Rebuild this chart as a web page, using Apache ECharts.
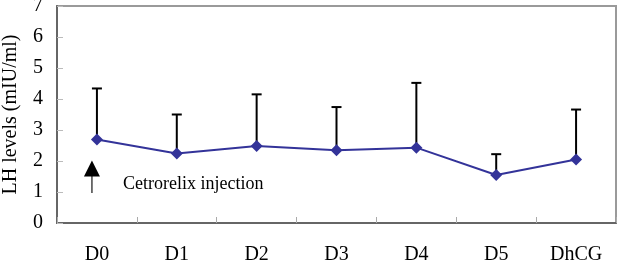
<!DOCTYPE html>
<html>
<head>
<meta charset="utf-8">
<script src="https://cdn.jsdelivr.net/npm/echarts@6/dist/echarts.min.js"></script>
<style>
  html, body { margin: 0; padding: 0; background: #fff; }
  #main { width: 618px; height: 263px; }
</style>
</head>
<body>
<div id="main"></div>
<script>
// days of sampling
var days = ['D0', 'D1', 'D2', 'D3', 'D4', 'D5', 'DhCG'];
// mean LH (mIU/ml)
var lhMean = [2.69, 2.24, 2.48, 2.35, 2.43, 1.55, 2.05];
// mean + SD (top of error bar)
var lhUpper = [4.34, 3.50, 4.15, 3.74, 4.52, 2.22, 3.66];
var yTicks = [0, 1, 2, 3, 4, 5, 6, 7];
// arrow marking the injection, from/to on the y scale
var arrowDay = 'D0';
var arrowFrom = 0.97, arrowTo = 2.02;
var noteText = 'Cetrorelix injection';
var noteY = 1.25;

var font = 'Liberation Serif, Times New Roman, serif';
var chart = echarts.init(document.getElementById('main'));

var errData = days.map(function (d, i) { return [i, lhMean[i], lhUpper[i]]; });

var option = {
  animation: false,
  grid: {
    left: 57, right: 2, top: 6, bottom: 40,
    outerBoundsMode: 'none',
    containLabel: false,
    show: true,
    borderColor: '#9a9a9a',
    borderWidth: 2
  },
  xAxis: {
    type: 'category',
    data: days,
    boundaryGap: true,
    axisLine: { lineStyle: { color: '#666', width: 2 } },
    axisTick: { show: true, inside: true, length: 6, interval: 0, lineStyle: { color: '#aaa', width: 1 } },
    axisLabel: { color: '#000', fontSize: 20, fontFamily: font, margin: 22 }
  },
  yAxis: {
    type: 'value',
    min: yTicks[0],
    max: yTicks[yTicks.length - 1],
    interval: 1,
    name: 'LH levels (mIU/ml)',
    nameLocation: 'middle',
    nameGap: 36,
    nameTextStyle: { color: '#000', fontSize: 20, fontFamily: font },
    axisLine: { show: true, lineStyle: { color: '#666', width: 2 } },
    axisTick: { show: true, inside: true, length: 6, lineStyle: { color: '#bbb', width: 1 } },
    splitLine: { show: false },
    axisLabel: { color: '#000', fontSize: 20, fontFamily: font, margin: 14 }
  },
  series: [
    {
      // error bars (upper only)
      type: 'custom',
      z: 1,
      data: errData,
      renderItem: function (params, api) {
        var lo = api.coord([api.value(0), api.value(1)]);
        var hi = api.coord([api.value(0), api.value(2)]);
        var style = { stroke: '#000', lineWidth: 2 };
        return {
          type: 'group',
          children: [
            { type: 'line', shape: { x1: lo[0], y1: lo[1], x2: hi[0], y2: hi[1] }, style: style },
            { type: 'line', shape: { x1: hi[0] - 5, y1: hi[1], x2: hi[0] + 5, y2: hi[1] }, style: style }
          ]
        };
      }
    },
    {
      type: 'line',
      z: 3,
      data: lhMean,
      symbol: 'diamond',
      symbolSize: 12,
      lineStyle: { color: '#333399', width: 2 },
      itemStyle: { color: '#333399' }
    },
    {
      // injection arrow + note
      type: 'custom',
      z: 2,
      data: [[arrowDay, arrowFrom, arrowTo]],
      renderItem: function (params, api) {
        var x0 = api.coord([api.value(0), api.value(1)]);
        var x1 = api.coord([api.value(0), api.value(2)]);
        var tx = api.coord([api.value(0), noteY]);
        var ax = x0[0] - 5;
        return {
          type: 'group',
          children: [
            { type: 'line', shape: { x1: ax, y1: x0[1], x2: ax, y2: x1[1] + 12 }, style: { stroke: '#444', lineWidth: 1.5 } },
            { type: 'polygon', shape: { points: [[ax, x1[1]], [ax - 8, x1[1] + 16], [ax + 8, x1[1] + 16]] }, style: { fill: '#000' } },
            { type: 'text', x: tx[0] + 26, y: tx[1], style: { text: noteText, fill: '#000', font: '18px ' + font, verticalAlign: 'middle' } }
          ]
        };
      }
    }
  ]
};

chart.setOption(option);
</script>
</body>
</html>
